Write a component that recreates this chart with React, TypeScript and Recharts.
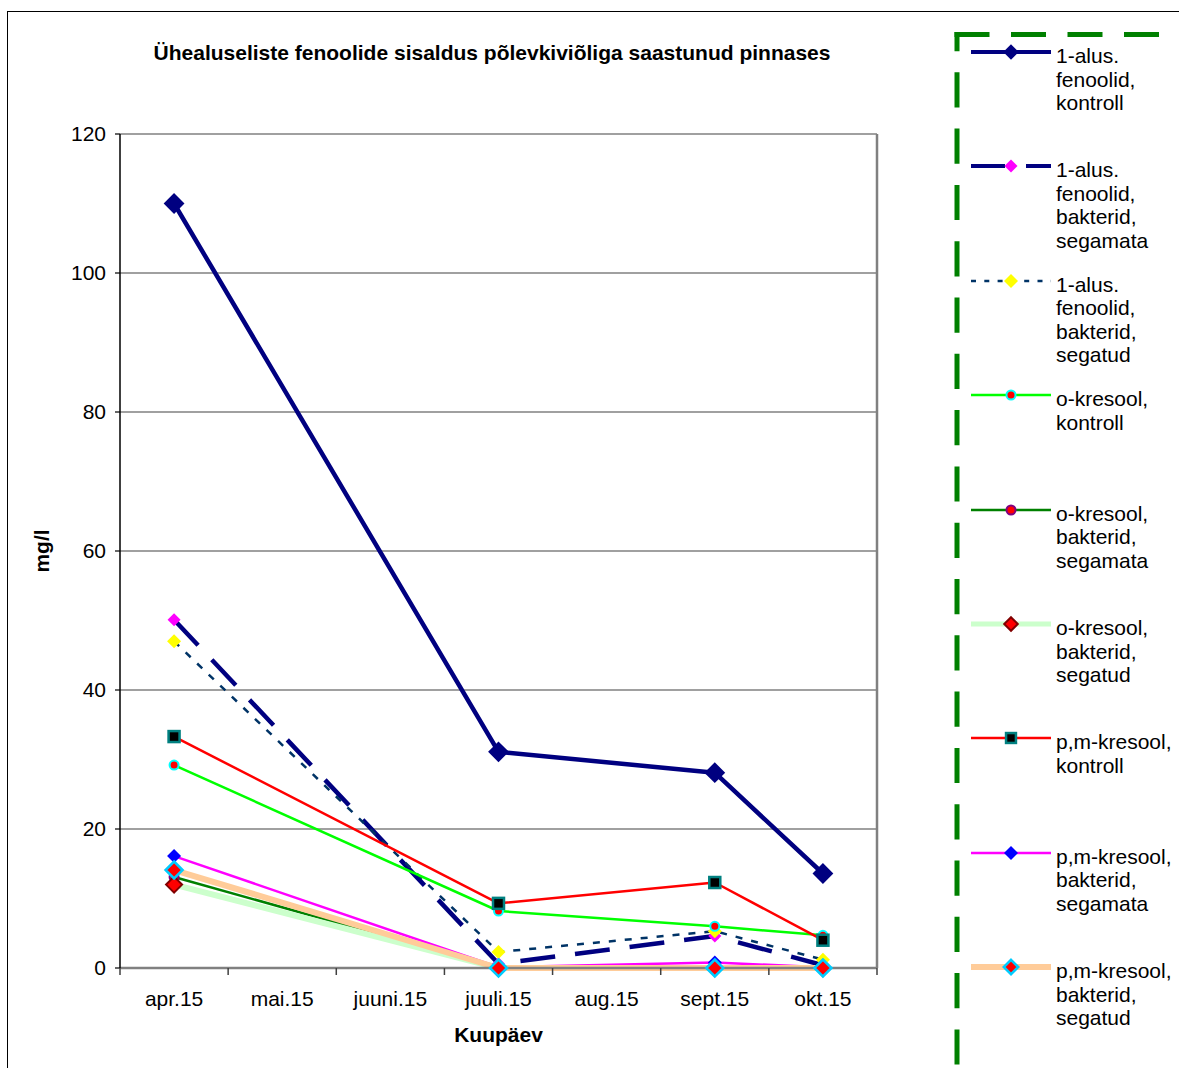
import { CartesianGrid, Label, Legend, Line, LineChart, XAxis, YAxis } from 'recharts';

const FONT = '"Liberation Sans", Arial, sans-serif';

// Kuupäevad (x-telg)
const months = ['apr.15', 'mai.15', 'juuni.15', 'juuli.15', 'aug.15', 'sept.15', 'okt.15'];
const yTicks = [0, 20, 40, 60, 80, 100, 120];

// mg/l, tühjad kuud on null
const fenoolidKontroll = [110, null, null, 31.1, null, 28.1, 13.6];
const fenoolidSegamata = [50.1, null, null, 0.6, null, 4.6, 0.4];
const fenoolidSegatud = [47.0, null, null, 2.3, null, 5.3, 1.2];
const oKresoolKontroll = [29.2, null, null, 8.2, null, 6.0, 4.7];
const oKresoolSegamata = [13.1, null, null, 0, null, 0, 0];
const oKresoolSegatud = [12.0, null, null, 0, null, 0, 0];
const pmKresoolKontroll = [33.3, null, null, 9.3, null, 12.3, 4.0];
const pmKresoolSegamata = [16.1, null, null, 0.1, null, 0.8, 0.1];
const pmKresoolSegatud = [14.1, null, null, 0, null, 0, 0];

type MarkerSpec = {
  shape: 'diamond' | 'circle' | 'square';
  size: number;
  fill: string;
  stroke: string;
  sw: number;
};

type SeriesSpec = {
  key: string;
  name: string;
  values: (number | null)[];
  stroke: string;
  width: number;
  dash?: string;
  legendWidth: number;
  legendDash?: string;
  legendScale: number;
  marker: MarkerSpec;
};

const series: SeriesSpec[] = [
  {
    key: 'fk',
    name: '1-alus. fenoolid, kontroll',
    values: fenoolidKontroll,
    stroke: '#000080',
    width: 4.5,
    legendWidth: 4,
    legendScale: 0.7,
    marker: { shape: 'diamond', size: 9, fill: '#000080', stroke: '#000080', sw: 2 },
  },
  {
    key: 'fsm',
    name: '1-alus. fenoolid, bakterid, segamata',
    values: fenoolidSegamata,
    stroke: '#000080',
    width: 4.5,
    dash: '35 20',
    legendWidth: 4,
    legendDash: '34 21',
    legendScale: 1,
    marker: { shape: 'diamond', size: 6.5, fill: '#FF00FF', stroke: '#FF00FF', sw: 0 },
  },
  {
    key: 'fst',
    name: '1-alus. fenoolid, bakterid, segatud',
    values: fenoolidSegatud,
    stroke: '#003366',
    width: 2.5,
    dash: '7 9',
    legendWidth: 2.5,
    legendDash: '5 8.3',
    legendScale: 1,
    marker: { shape: 'diamond', size: 7, fill: '#FFFF00', stroke: '#FFFF00', sw: 0 },
  },
  {
    key: 'ok',
    name: 'o-kresool, kontroll',
    values: oKresoolKontroll,
    stroke: '#00FF00',
    width: 2.5,
    legendWidth: 2.5,
    legendScale: 1,
    marker: { shape: 'circle', size: 4.5, fill: '#FF0000', stroke: '#00FFFF', sw: 2 },
  },
  {
    key: 'osm',
    name: 'o-kresool, bakterid, segamata',
    values: oKresoolSegamata,
    stroke: '#008000',
    width: 2.5,
    legendWidth: 2.5,
    legendScale: 1,
    marker: { shape: 'circle', size: 4.5, fill: '#FF0000', stroke: '#800080', sw: 2 },
  },
  {
    key: 'ost',
    name: 'o-kresool, bakterid, segatud',
    values: oKresoolSegatud,
    stroke: '#CCFFCC',
    width: 6,
    legendWidth: 5,
    legendScale: 0.85,
    marker: { shape: 'diamond', size: 8, fill: '#FF0000', stroke: '#800000', sw: 2 },
  },
  {
    key: 'pk',
    name: 'p,m-kresool, kontroll',
    values: pmKresoolKontroll,
    stroke: '#FF0000',
    width: 2.5,
    legendWidth: 2.5,
    legendScale: 0.9,
    marker: { shape: 'square', size: 5.5, fill: '#000000', stroke: '#008080', sw: 2.5 },
  },
  {
    key: 'psm',
    name: 'p,m-kresool, bakterid, segamata',
    values: pmKresoolSegamata,
    stroke: '#FF00FF',
    width: 2.5,
    legendWidth: 2.5,
    legendScale: 1,
    marker: { shape: 'diamond', size: 7, fill: '#0000FF', stroke: '#0000FF', sw: 0 },
  },
  {
    key: 'pst',
    name: 'p,m-kresool, bakterid, segatud',
    values: pmKresoolSegatud,
    stroke: '#FFCC99',
    width: 6,
    legendWidth: 6,
    legendScale: 0.85,
    marker: { shape: 'diamond', size: 8.5, fill: '#FF0000', stroke: '#00CCFF', sw: 2.5 },
  },
];

const chartData = months.map((month, i) => {
  const row: Record<string, string | number | null> = { month };
  series.forEach((s) => {
    row[s.key] = s.values[i];
  });
  return row;
});

const CHART_W = 1179;
const CHART_H = 1068;
const X_TICK_SIZE = 7;
const X_TICK_MARGIN = 16;
const BAND_HALF = (877 - 120) / months.length / 2;

function Marker({ cx, cy, m, scale = 1 }: { cx: number; cy: number; m: MarkerSpec; scale?: number }) {
  const s = m.size * scale;
  if (m.shape === 'circle') {
    return <circle cx={cx} cy={cy} r={s} fill={m.fill} stroke={m.stroke} strokeWidth={m.sw} />;
  }
  if (m.shape === 'square') {
    return (
      <rect x={cx - s} y={cy - s} width={s * 2} height={s * 2} fill={m.fill} stroke={m.stroke} strokeWidth={m.sw} />
    );
  }
  return (
    <polygon
      points={`${cx},${cy - s} ${cx + s},${cy} ${cx},${cy + s} ${cx - s},${cy}`}
      fill={m.fill}
      stroke={m.stroke}
      strokeWidth={m.sw}
      strokeLinejoin="miter"
    />
  );
}

// kuu nimi keskel, jaotusjoon kategooriate vahel
function MonthTick(props: any) {
  const { x, y, payload, index } = props;
  const half = typeof payload?.offset === 'number' && payload.offset > 0 ? payload.offset : BAND_HALF;
  const axisY = y - X_TICK_SIZE - X_TICK_MARGIN;
  return (
    <g>
      <line x1={x - half} x2={x - half} y1={axisY} y2={axisY + X_TICK_SIZE} stroke="#404040" strokeWidth={1.5} />
      {index === months.length - 1 && (
        <line x1={x + half} x2={x + half} y1={axisY} y2={axisY + X_TICK_SIZE} stroke="#404040" strokeWidth={1.5} />
      )}
      <text x={x} y={y} dy="0.71em" textAnchor="middle" fontSize={21} fill="#000" fontFamily={FONT}>
        {payload.value}
      </text>
    </g>
  );
}

function SeriesLegend() {
  return (
    <div style={{ position: 'relative', width: 239, height: CHART_H, fontFamily: FONT }}>
      <svg style={{ position: 'absolute', left: 0, top: 0 }} width={239} height={CHART_H}>
        <line x1={14.5} x2={260} y1={34.5} y2={34.5} stroke="#008000" strokeWidth={5} strokeDasharray="35 21.5" />
        <line
          x1={17}
          x2={17}
          y1={32}
          y2={1100}
          stroke="#008000"
          strokeWidth={5}
          strokeDasharray="35.2 21.1"
          strokeDashoffset={16}
        />
      </svg>
      {series.map((s, i) => (
        <div key={s.key} style={{ position: 'absolute', left: 0, top: 40 + i * 114.4, width: 239 }}>
          <svg style={{ position: 'absolute', left: 31, top: 0 }} width={82} height={24}>
            <line x1={0} x2={80} y1={12} y2={12} stroke={s.stroke} strokeWidth={s.legendWidth} strokeDasharray={s.legendDash} />
            <Marker cx={40} cy={12} m={s.marker} scale={s.legendScale} />
          </svg>
          <div
            style={{
              position: 'absolute',
              left: 116,
              top: 4,
              fontSize: 21,
              lineHeight: '23.5px',
              color: '#000',
              whiteSpace: 'nowrap',
              textAlign: 'left',
            }}
          >
            {s.name.split(' ').map((w) => (
              <div key={w}>{w}</div>
            ))}
          </div>
        </div>
      ))}
    </div>
  );
}

export default function App() {
  return (
    <div
      style={{
        position: 'fixed',
        left: 0,
        top: 0,
        width: CHART_W,
        height: CHART_H,
        overflow: 'hidden',
        background: '#fff',
        fontFamily: FONT,
      }}
    >
      {/* diagrammi välisraam */}
      <div
        style={{
          position: 'absolute',
          left: 7,
          top: 10.5,
          width: 1400,
          height: 1400,
          border: '1.5px solid #000',
        }}
      />
      <div
        style={{
          position: 'absolute',
          left: 0,
          top: 41,
          width: 984,
          textAlign: 'center',
          fontSize: 21,
          lineHeight: '24px',
          fontWeight: 'bold',
          color: '#000',
        }}
      >
        Ühealuseliste fenoolide sisaldus põlevkiviõliga saastunud pinnases
      </div>
      <div style={{ position: 'absolute', left: 0, top: 0 }}>
        <LineChart
          width={CHART_W}
          height={CHART_H}
          data={chartData}
          margin={{ top: 134, right: 301, bottom: 40, left: 60 }}
          style={{ fontFamily: FONT }}
        >
          <CartesianGrid vertical={false} stroke="#808080" strokeWidth={1.3} />
          <XAxis
            dataKey="month"
            scale="band"
            interval={0}
            height={60}
            tickSize={X_TICK_SIZE}
            tickMargin={X_TICK_MARGIN}
            tickLine={false}
            axisLine={{ stroke: '#808080', strokeWidth: 2.5 }}
            tick={(p: any) => <MonthTick {...p} />}
          >
            <Label
              content={({ viewBox }: any) => (
                <text
                  x={viewBox.x + viewBox.width / 2}
                  y={viewBox.y + 74}
                  textAnchor="middle"
                  fontSize={21}
                  fontWeight="bold"
                  fill="#000"
                  fontFamily={FONT}
                >
                  Kuupäev
                </text>
              )}
            />
          </XAxis>
          <YAxis
            domain={[0, 120]}
            ticks={yTicks}
            interval={0}
            width={60}
            tickSize={5}
            tickMargin={9}
            tick={{ fontSize: 21, fill: '#000', fontFamily: FONT }}
            axisLine={{ stroke: '#000', strokeWidth: 1.5 }}
            tickLine={{ stroke: '#000', strokeWidth: 1.2 }}
          >
            <Label
              content={({ viewBox }: any) => {
                const lx = viewBox.x - 11.5;
                const ly = viewBox.y + viewBox.height / 2;
                return (
                  <text
                    x={lx}
                    y={ly}
                    transform={`rotate(-90, ${lx}, ${ly})`}
                    textAnchor="middle"
                    fontSize={21}
                    fontWeight="bold"
                    fill="#000"
                    fontFamily={FONT}
                  >
                    mg/l
                  </text>
                );
              }}
            />
          </YAxis>
          {/* paremal hall raam */}
          <YAxis
            yAxisId="frame"
            orientation="right"
            domain={[0, 120]}
            width={1}
            tick={false}
            tickLine={false}
            axisLine={{ stroke: '#808080', strokeWidth: 2.5 }}
          />
          <Legend
            layout="vertical"
            align="center"
            verticalAlign="middle"
            wrapperStyle={{ left: 940, top: 0, width: 239, height: CHART_H }}
            content={() => <SeriesLegend />}
          />
          {series.map((s) => (
            <Line
              key={s.key}
              type="linear"
              dataKey={s.key}
              name={s.name}
              stroke={s.stroke}
              strokeWidth={s.width}
              strokeDasharray={s.dash}
              strokeLinejoin="round"
              connectNulls
              isAnimationActive={false}
              activeDot={false}
              dot={(p: any) =>
                p.cy == null || p.value == null ? (
                  <g key={`${s.key}-${p.index}`} />
                ) : (
                  <Marker key={`${s.key}-${p.index}`} cx={p.cx} cy={p.cy} m={s.marker} />
                )
              }
            />
          ))}
        </LineChart>
      </div>
    </div>
  );
}
